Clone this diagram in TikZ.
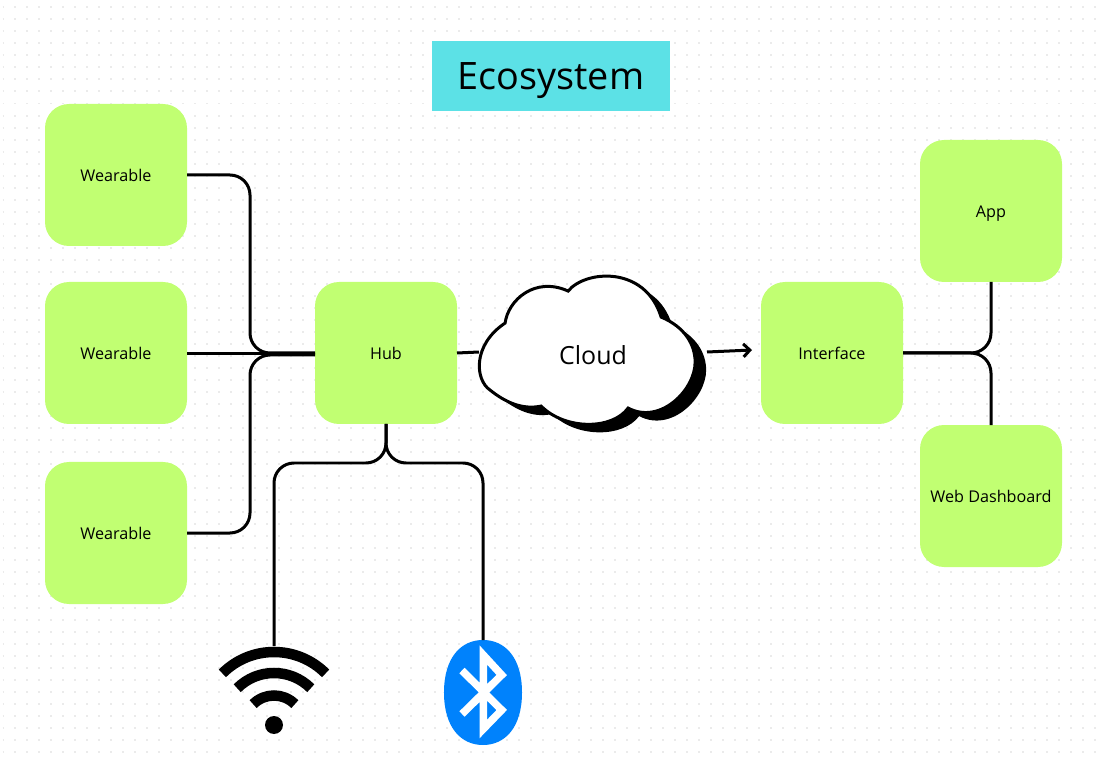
\documentclass[tikz,border=0pt]{standalone}
\usepackage{fontspec}
\setmainfont{Open Sans}
\usepackage{xcolor}
\usetikzlibrary{arrows.meta, positioning, calc}
\definecolor{boxgreen}{HTML}{C1FF72}
\definecolor{titlecyan}{HTML}{5CE1E6}
\definecolor{btblue}{HTML}{0082FC}
\newcommand{\cloudoutline}{(505,323) .. controls (508,300) and (535,276) .. (568,291)
  .. controls (585,270) and (645,265) .. (661,317)
  .. controls (685,327) and (695,345) .. (695,362)
  .. controls (695,390) and (660,425) .. (628,408)
  .. controls (612,430) and (565,430) .. (541,406)
  .. controls (522,410) and (505,402) .. (490,390)
  .. controls (475,380) and (472,345) .. (505,323) -- cycle}

\begin{document}
\begin{tikzpicture}[
    box/.style={fill=boxgreen, rounded corners=0.48cm, minimum width=2.84cm,
                minimum height=2.84cm, outer sep=0pt, align=center, text height=9pt, text depth=1.8pt,
                font=\fontsize{9.2}{11}\selectfont},
    link/.style={line width=0.06cm, rounded corners=0.4cm},
    griddot/.style={gray!16, line width=0.04cm, dash pattern=on 0.04cm off 0.2cm},
    wifiarc/.style={line width=0.21cm}
]
\useasboundingbox (0,0) rectangle (22.04,15.2);
\foreach \row in {0,...,62}
    \draw[griddot] (0.05,15.05-0.24*\row) -- (22.04,15.05-0.24*\row);

\node[fill=titlecyan, minimum width=4.76cm, minimum height=1.4cm, outer sep=0pt,
      text height=15.3pt, text depth=0pt, font=\fontsize{21.5}{24}\selectfont] (title) at (11.02,13.68) {Ecosystem};

\node[box] (wear1) at (2.32,11.7) {Wearable};
\node[box, below=0.72cm of wear1] (wear2) {Wearable};
\node[box, below=0.76cm of wear2] (wear3) {Wearable};
\node[box, right=2.56cm of wear2] (hub) {Hub};
\node[box, right=6.08cm of hub] (iface) {Interface};
\node[box, above right=0cm and 0.34cm of iface] (app) {App};
\node[box, below right=0.02cm and 0.34cm of iface] (dash) {Web Dashboard};

% cloud with its shadow
\begin{scope}[x=0.02cm, y=-0.02cm, yshift=15.2cm]
\fill[black, shift={(11,8)}] \cloudoutline;
\draw[fill=white, line width=0.06cm] \cloudoutline;
\end{scope}
\node[minimum width=4.56cm, minimum height=3.1cm, outer sep=0pt, text height=14.5pt, text depth=0pt,
      font=\fontsize{14.2}{16}\selectfont] (cloud) at (11.86,8.16) {Cloud};

% wifi and bluetooth
\node[minimum width=2.22cm, minimum height=1.76cm, outer sep=0pt] (wifi) at (5.48,1.4) {};
\node[circle, fill=black, minimum size=0.36cm, inner sep=0pt, outer sep=0pt, above=0cm of wifi.south] (wifidot) {};
\foreach \rad in {0.59,1.04,1.46}
    \draw[wifiarc] ([shift={(135:\rad)}]wifidot.center) arc (135:45:\rad);

\node[minimum width=1.56cm, minimum height=2.1cm, outer sep=0pt] (bt) at (9.66,1.35) {};
\begin{scope}[shift={(bt.center)}, x=0.02cm, y=-0.02cm]
\fill[btblue] (0,-52.5) .. controls (22,-52.5) and (39,-35) .. (39,0)
    .. controls (39,35) and (22,52.5) .. (0,52.5)
    .. controls (-22,52.5) and (-39,35) .. (-39,0)
    .. controls (-39,-35) and (-22,-52.5) .. (0,-52.5) -- cycle;
\draw[white, line width=0.15cm, miter limit=10] (-21,-22) -- (18.7,17.5) -- (0.3,36.5)
    -- (0.3,-37.5) -- (18.7,-17.5) -- (-21,21.5);
\end{scope}

\coordinate (ifacein) at (15.04,8.2);
\draw[link] (wear1.east) -- ++(1.26,0) |- (hub.west);
\draw[link] ([yshift=-0.02cm]wear2.east) -- ([yshift=-0.02cm]hub.west);
\draw[link] (wear3.east) -- ++(1.26,0) |- ([yshift=-0.04cm]hub.west);
\draw[link] (hub.south) -- ++(0,-0.78) -| (wifi.north);
\draw[link] (hub.south) -- ++(0,-0.78) -| (bt.north);
\draw[link] (hub.east) -- (cloud.west);
\draw[link, -{Straight Barb[length=1.3mm, width=2.6mm]}] (cloud.east) -- (ifacein);
\draw[link] (iface.east) -| (app.south);
\draw[link] (iface.east) -| (dash.north);
\end{tikzpicture}
\end{document}
